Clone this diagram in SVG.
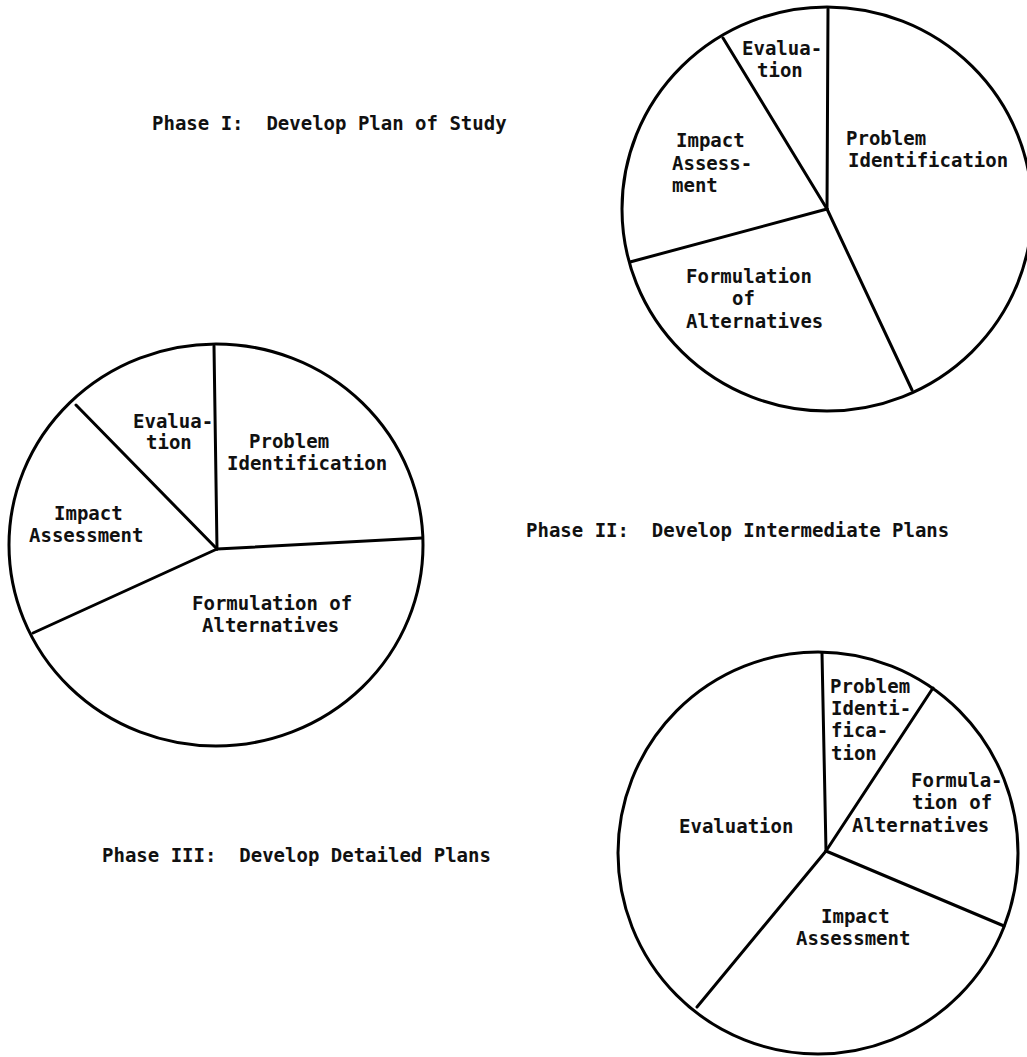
<svg xmlns="http://www.w3.org/2000/svg" width="1027" height="1057" viewBox="0 0 1027 1057">
<style>
.pie{fill:none;stroke:#000;stroke-width:3}
.sp{stroke:#000;stroke-width:3;stroke-linecap:round}
text{font-family:"DejaVu Sans Mono","Liberation Mono",monospace;font-size:19px;font-weight:bold;fill:#111;white-space:pre}
</style>
<rect width="1027" height="1057" fill="#fff"/>
<g id="title-phase1"><text x="152" y="130" xml:space="preserve">Phase I:  Develop Plan of Study</text></g>
<g id="title-phase2"><text x="526" y="537" xml:space="preserve">Phase II:  Develop Intermediate Plans</text></g>
<g id="title-phase3"><text x="102" y="862" xml:space="preserve">Phase III:  Develop Detailed Plans</text></g>

<g id="pie-phase1">
<ellipse class="pie" cx="827" cy="209" rx="205" ry="202"/>
<line class="sp" x1="827" y1="209" x2="828" y2="9"/>
<line class="sp" x1="827" y1="209" x2="723" y2="38"/>
<line class="sp" x1="827" y1="209" x2="630" y2="262"/>
<line class="sp" x1="827" y1="209" x2="912" y2="390"/>
<text x="742" y="55">Evalua-</text>
<text x="757" y="77">tion</text>
<text x="676" y="147">Impact</text>
<text x="672" y="170">Assess-</text>
<text x="672" y="192">ment</text>
<text x="846" y="145">Problem</text>
<text x="848" y="167">Identification</text>
<text x="686" y="283">Formulation</text>
<text x="732" y="305">of</text>
<text x="686" y="328">Alternatives</text>
</g>

<g id="pie-phase2">
<ellipse class="pie" cx="216" cy="545" rx="207" ry="201"/>
<line class="sp" x1="217" y1="549" x2="214" y2="346"/>
<line class="sp" x1="217" y1="549" x2="76" y2="405"/>
<line class="sp" x1="217" y1="549" x2="422" y2="538"/>
<line class="sp" x1="217" y1="549" x2="33" y2="633"/>
<text x="133" y="428">Evalua-</text>
<text x="146" y="449">tion</text>
<text x="249" y="448">Problem</text>
<text x="227" y="470">Identification</text>
<text x="54" y="520">Impact</text>
<text x="29" y="542">Assessment</text>
<text x="192" y="610" xml:space="preserve">Formulation of</text>
<text x="202" y="632">Alternatives</text>
</g>

<g id="pie-phase3">
<ellipse class="pie" cx="818" cy="853" rx="200" ry="201"/>
<line class="sp" x1="826" y1="851" x2="822" y2="653"/>
<line class="sp" x1="826" y1="851" x2="933" y2="688"/>
<line class="sp" x1="826" y1="851" x2="1004" y2="926"/>
<line class="sp" x1="826" y1="851" x2="697" y2="1007"/>
<text x="830" y="693">Problem</text>
<text x="831" y="715">Identi-</text>
<text x="831" y="737">fica-</text>
<text x="831" y="760">tion</text>
<text x="911" y="787">Formula-</text>
<text x="912" y="809" xml:space="preserve">tion of</text>
<text x="852" y="832">Alternatives</text>
<text x="679" y="833">Evaluation</text>
<text x="821" y="923">Impact</text>
<text x="796" y="945">Assessment</text>
</g>
</svg>
